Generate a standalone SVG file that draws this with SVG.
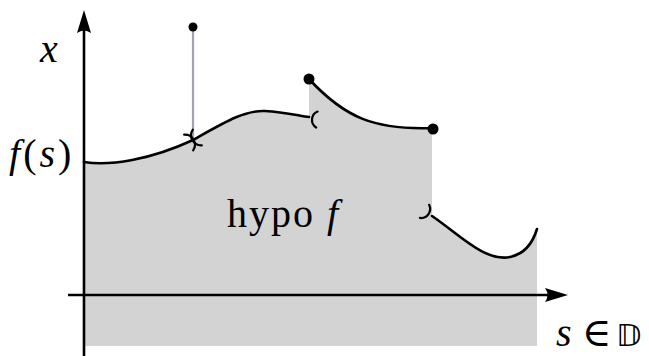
<svg xmlns="http://www.w3.org/2000/svg" width="649" height="356" viewBox="0 0 649 356">
<style>
.curve{fill:none;stroke:#000;stroke-width:2.6;stroke-linecap:round}
.hook{fill:none;stroke:#000;stroke-width:2.2;stroke-linecap:round}
.axis{fill:none;stroke:#000;stroke-width:2.6}
.lbl{font-family:"Liberation Serif","DejaVu Serif",serif;font-size:40px;fill:#000}
.it{font-style:italic}
</style>
<rect width="649" height="356" fill="#fff"/>
<g id="hypograph">
<path d="M84,162 C110,166 150,160 193,140 C225,122 245,110 265,111 C285,112 300,116 309,117 L309,79 C345,118 375,130 432,128 L432,216 C460,235 485,262 510,257 C525,254 533,242 537,229 L537,346 L84,346 Z" fill="#d3d3d3"/>
</g>
<g id="axes">
<line class="axis" x1="84" y1="356" x2="84" y2="24"/>
<path d="M84,10 L91,33 Q84,28 77,33 Z" fill="#000"/>
<line class="axis" x1="68" y1="295" x2="555" y2="295"/>
<path d="M568,295 L545,302 Q550,295 545,288 Z" fill="#000"/>
</g>
<g id="connectors">
<line x1="193" y1="27" x2="193" y2="140" stroke="#a3a3b5" stroke-width="2.2"/>
<path class="curve" d="M84,162 C110,166 150,160 193,140 C225,122 245,110 265,111 C285,112 300,116 309,117"/>
<path class="curve" d="M309,79 C345,118 375,130 432,128"/>
<path class="curve" d="M432,216 C460,235 485,262 510,257 C525,254 533,242 537,229"/>
<g transform="translate(193,140) rotate(-30)">
<path class="hook" d="M-5,-9 A10,10 0 0 1 -5,9"/>
<path class="hook" d="M5,-9 A10,10 0 0 0 5,9"/>
</g>
<g transform="translate(311,118) rotate(5)">
<path class="hook" d="M6,-7 A9,9 0 0 0 6,9"/>
</g>
<g transform="translate(430,214) rotate(35)">
<path class="hook" d="M-6,-7 A9,9 0 0 1 -6,9"/>
</g>
</g>
<g id="points">
<circle cx="193" cy="27" r="4.5" fill="#000"/>
<circle cx="309" cy="79" r="5.5" fill="#000"/>
<circle cx="433" cy="129" r="5.5" fill="#000"/>
</g>
<g id="labels">
<text class="lbl it" x="40" y="62">x</text>
<text class="lbl" x="9" y="167" font-size="42" letter-spacing="3"><tspan class="it">f</tspan>(<tspan class="it">s</tspan>)</text>
<text class="lbl" x="227" y="227" letter-spacing="2">hypo <tspan class="it">f</tspan></text>
<text class="lbl" x="556" y="346" font-size="30"><tspan class="it">s</tspan><tspan x="582" font-family="'DejaVu Serif',serif" font-size="40">∈</tspan><tspan x="616" font-family="'DejaVu Sans','DejaVu Serif',serif" font-size="31">𝔻</tspan></text>
</g>
</svg>
